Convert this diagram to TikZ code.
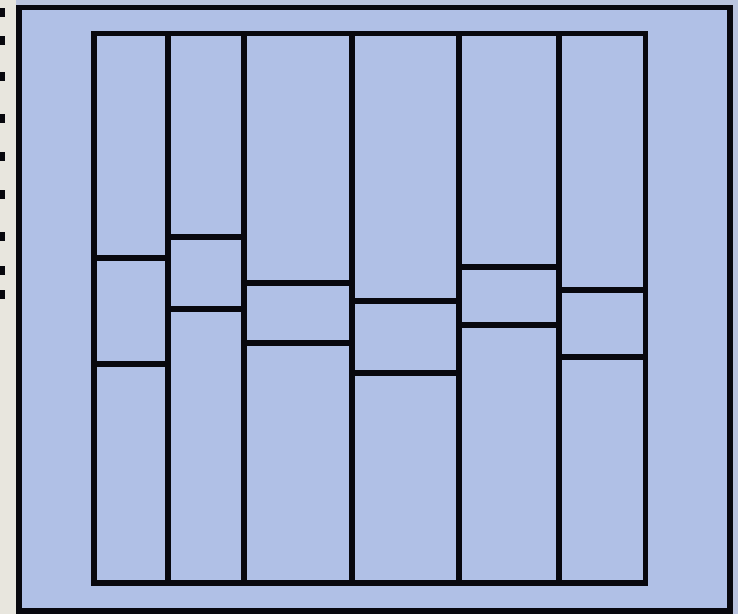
\documentclass[tikz,border=0pt]{standalone}
\definecolor{panel}{RGB}{176,192,230}
\definecolor{edge}{RGB}{186,196,222}
\definecolor{strip}{RGB}{232,230,222}
\definecolor{ink}{RGB}{8,8,14}
\tikzset{
  frame/.style={draw=ink, line width=5.5pt, fill=panel},
  divider/.style={draw=ink, line width=5.5pt},
  mark/.style={fill=ink, draw=none}
}
\begin{document}
\begin{tikzpicture}[x=1pt,y=-1pt]
\useasboundingbox (0,0) rectangle (738,614);
\fill[edge] (0,0) rectangle (738,614);
\fill[strip] (0,0) rectangle (16,614);
\foreach \yy in {8,36,72,114,152,190,232,266,290}
  \fill[ink] (0,\yy) rectangle (5,\yy+9);
\draw[frame] (19,7.5) rectangle (730,611);
\draw[frame] (94,33.5) rectangle (645.5,583);
\foreach \xx in {168,244,352,459,559}
  \draw[divider] (\xx,33.5) -- (\xx,583);
% column 1
\draw[divider] (94,258) -- (168,258);
\draw[divider] (94,364) -- (168,364);
% column 2
\draw[divider] (168,237) -- (244,237);
\draw[divider] (168,309) -- (244,309);
% column 3
\draw[divider] (244,283) -- (352,283);
\draw[divider] (244,343) -- (352,343);
% column 4
\draw[divider] (352,301) -- (459,301);
\draw[divider] (352,373) -- (459,373);
% column 5
\draw[divider] (459,267) -- (559,267);
\draw[divider] (459,325) -- (559,325);
% column 6
\draw[divider] (559,290) -- (645.5,290);
\draw[divider] (559,357) -- (645.5,357);
\end{tikzpicture}
\end{document}
